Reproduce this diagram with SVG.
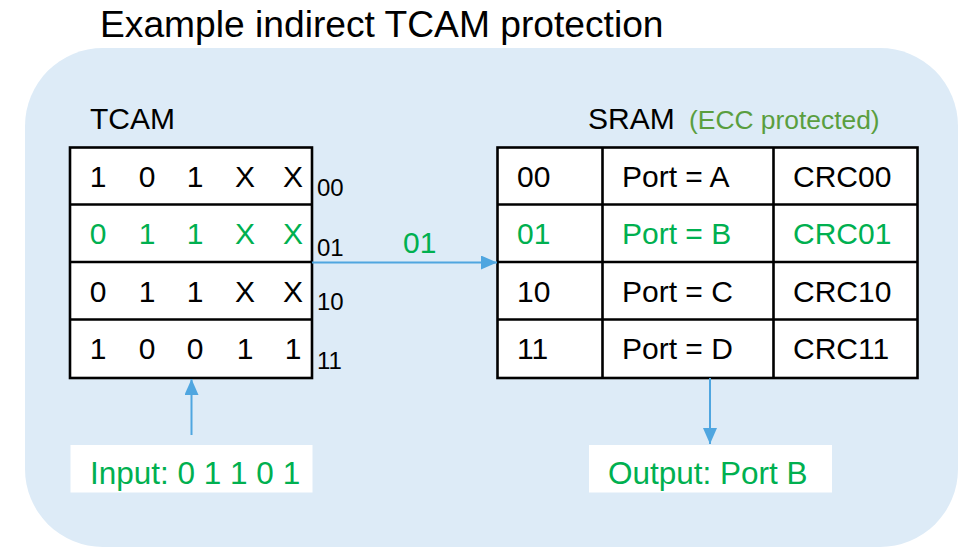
<svg xmlns="http://www.w3.org/2000/svg" width="961" height="548" viewBox="0 0 961 548">
  <style>
    text { font-family: "Liberation Sans", Arial, sans-serif; fill: #000; }
    .title { font-size: 37.2px; }
    .label { font-size: 30px; }
    .io { font-size: 31.5px; }
    .cell { font-size: 30px; }
    .idx { font-size: 24px; }
    .hit { fill: #00B050; }
    .ecc { font-size: 26.4px; fill: #5A9E3F; }
    .frame { fill: #FFFFFF; stroke: #000; stroke-width: 2.6; }
    .rule { stroke: #000; stroke-width: 2.6; fill: none; }
    .conn { stroke: #4FA6E0; stroke-width: 2; fill: none; }
    .box { fill: #FFFFFF; }
  </style>
  <defs>
    <marker id="arrow" viewBox="0 0 16 14" refX="16" refY="7" markerWidth="16" markerHeight="14" markerUnits="userSpaceOnUse" orient="auto">
      <path d="M0,0 L16,7 L0,14 Z" fill="#4FA6E0"/>
    </marker>
  </defs>

  <!-- title -->
  <text class="title" x="100" y="37">Example indirect TCAM protection</text>

  <!-- panel -->
  <rect x="25" y="48" width="933" height="499" rx="78" ry="78" fill="#DDEBF7"/>

  <!-- TCAM -->
  <g id="tcam">
    <text class="label" x="90" y="129">TCAM</text>
    <rect class="frame" x="70" y="147.5" width="242" height="230.5"/>
    <path class="rule" d="M70,204.5 H312 M70,262 H312 M70,319.5 H312"/>
    <g class="cell" text-anchor="middle">
      <text x="98" y="187">1</text><text x="147" y="187">0</text><text x="195" y="187">1</text><text x="245" y="187">X</text><text x="293" y="187">X</text>
      <text class="hit" x="98" y="244">0</text><text class="hit" x="147" y="244">1</text><text class="hit" x="195" y="244">1</text><text class="hit" x="245" y="244">X</text><text class="hit" x="293" y="244">X</text>
      <text x="98" y="301.5">0</text><text x="147" y="301.5">1</text><text x="195" y="301.5">1</text><text x="245" y="301.5">X</text><text x="293" y="301.5">X</text>
      <text x="98" y="359">1</text><text x="147" y="359">0</text><text x="195" y="359">0</text><text x="245" y="359">1</text><text x="293" y="359">1</text>
    </g>
    <text class="idx" x="317" y="196">00</text>
    <text class="idx" x="317" y="256">01</text>
    <text class="idx" x="317" y="310">10</text>
    <text class="idx" x="317" y="369">11</text>
  </g>

  <!-- SRAM -->
  <g id="sram">
    <text class="label" x="588" y="129">SRAM</text>
    <text class="ecc" x="689" y="129">(ECC protected)</text>
    <rect class="frame" x="497.5" y="147.5" width="420" height="230.5"/>
    <path class="rule" d="M497.5,204.5 H917.5 M497.5,262 H917.5 M497.5,319.5 H917.5 M602.5,147.5 V378 M773.5,147.5 V378"/>
    <g class="cell">
      <text x="517" y="187">00</text><text x="622" y="187">Port = A</text><text x="793" y="187">CRC00</text>
      <text class="hit" x="517" y="244">01</text><text class="hit" x="622" y="244">Port = B</text><text class="hit" x="793" y="244">CRC01</text>
      <text x="517" y="301.5">10</text><text x="622" y="301.5">Port = C</text><text x="793" y="301.5">CRC10</text>
      <text x="517" y="359">11</text><text x="622" y="359">Port = D</text><text x="793" y="359">CRC11</text>
    </g>
  </g>

  <!-- input -->
  <g id="input">
    <rect class="box" x="70.5" y="445" width="242" height="47.5"/>
    <text class="io hit" x="90" y="484">Input: 0 1 1 0 1</text>
  </g>

  <!-- output -->
  <g id="output">
    <rect class="box" x="589" y="445" width="243" height="47.5"/>
    <text class="io hit" x="608" y="484">Output: Port B</text>
  </g>

  <!-- connectors -->
  <g id="connectors">
    <line class="conn" x1="312" y1="262.5" x2="497" y2="262.5" marker-end="url(#arrow)"/>
    <text class="label hit" x="403" y="253">01</text>
    <line class="conn" x1="191.5" y1="435" x2="191.5" y2="379" marker-end="url(#arrow)"/>
    <line class="conn" x1="710" y1="378" x2="710" y2="444" marker-end="url(#arrow)"/>
  </g>
</svg>
